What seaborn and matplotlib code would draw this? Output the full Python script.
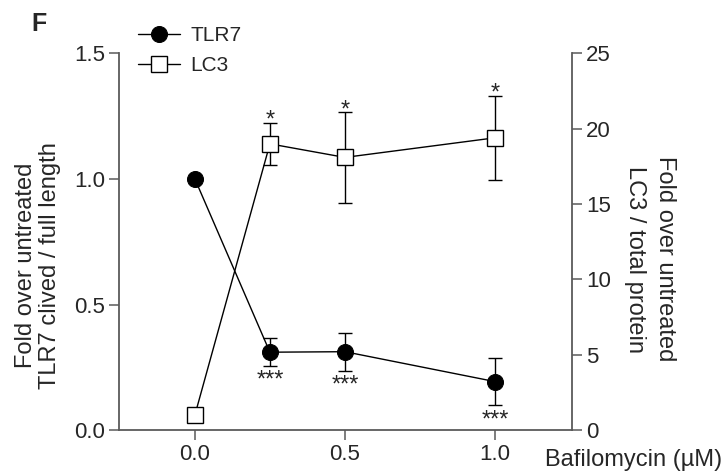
import matplotlib
matplotlib.use("Agg")
import matplotlib.pyplot as plt
import seaborn as sns
import pandas as pd
import numpy as np

# Data
doses = [0.0, 0.25, 0.5, 1.0]
tlr7_mean = [1.0, 0.31, 0.312, 0.193]
tlr7_err = [0.0, 0.055, 0.076, 0.095]
lc3_mean = [1.0, 19.0, 18.1, 19.4]
lc3_err = [0.0, 1.4, 3.0, 2.8]
tlr7_stars = ["", "***", "***", "***"]
lc3_stars = ["", "*", "*", "*"]

sns.set_theme(style="ticks")
plt.rcParams['font.family'] = ['Liberation Sans', 'DejaVu Sans']

AX_COL = "#5a5a5a"

tlr7_df = pd.DataFrame({"dose": doses, "value": tlr7_mean})
lc3_df = pd.DataFrame({"dose": doses, "value": lc3_mean})

fig = plt.figure(figsize=(7.27, 4.75), dpi=100)
ax = fig.add_axes([0.1637, 0.0947, 0.6231, 0.7927])
ax2 = ax.twinx()

# TLR7 on the left axis
ax.errorbar(doses, tlr7_mean, yerr=tlr7_err, fmt="none", ecolor="black",
            elinewidth=1, capsize=5, capthick=1, zorder=2)
sns.lineplot(data=tlr7_df, x="dose", y="value", ax=ax, color="black",
             linewidth=1, marker="o", markersize=11.5, markerfacecolor="black",
             markeredgecolor="black", label="TLR7", legend=False, zorder=3)

# LC3 on the right axis
ax2.errorbar(doses, lc3_mean, yerr=lc3_err, fmt="none", ecolor="black",
             elinewidth=1, capsize=5, capthick=1, zorder=2)
sns.lineplot(data=lc3_df, x="dose", y="value", ax=ax2, color="black",
             linewidth=1, marker="s", markersize=11, markerfacecolor="white",
             markeredgecolor="black", markeredgewidth=1, label="LC3",
             legend=False, zorder=3)

# significance stars
for x, m, e, s in zip(doses, tlr7_mean, tlr7_err, tlr7_stars):
    if s:
        ax.annotate(s, (x, m - e), xytext=(0, -15), textcoords="offset points",
                    ha="center", va="baseline", fontsize=17)
for x, m, e, s in zip(doses, lc3_mean, lc3_err, lc3_stars):
    if s:
        ax2.annotate(s, (x, m + e), xytext=(0, -3), textcoords="offset points",
                     ha="center", va="baseline", fontsize=17)

ax.set_xlim(-0.253, 1.257)
ax.set_ylim(0, 1.5)
ax2.set_ylim(0, 25)
ax.set_xticks([0.0, 0.5, 1.0])
ax.set_xticklabels(["0.0", "0.5", "1.0"])
ax.set_yticks([0.0, 0.5, 1.0, 1.5])
ax.set_yticklabels(["0.0", "0.5", "1.0", "1.5"])
ax2.set_yticks([0, 5, 10, 15, 20, 25])

for a in (ax, ax2):
    a.set_xlabel("")
    a.set_ylabel("")
    a.tick_params(axis="both", labelsize=16, length=7, width=1.1,
                  color=AX_COL, direction="out", pad=3)
    for sp in a.spines.values():
        sp.set_color(AX_COL)
        sp.set_linewidth(1.3)

ax.spines["top"].set_visible(False)
ax.spines["right"].set_visible(False)
ax2.spines["top"].set_visible(False)
ax2.spines["left"].set_visible(False)
ax2.spines["bottom"].set_visible(False)

ax.set_ylabel("Fold over untreated\nTLR7 clived / full length", fontsize=17,
              linespacing=1.1, ha="center", va="center")
ax.yaxis.set_label_coords(-0.179, 0.438)
ax2.set_ylabel("Fold over untreated\nLC3 / total protein", fontsize=17,
               rotation=-90, linespacing=1.45, ha="center", va="center")
ax2.yaxis.set_label_coords(1.172, 0.454)

ax.text(0.94, -0.08, "Bafilomycin (\u00b5M)", transform=ax.transAxes,
        ha="left", va="center", fontsize=17)

fig.text(0.054, 0.95, "F", fontsize=18, fontweight="bold", ha="center", va="center")

h1 = ax.get_lines()[-1]
h2 = ax2.get_lines()[-1]
fig.legend([h1, h2], ["TLR7", "LC3"], loc="upper left",
           bbox_to_anchor=(0.17, 0.976), frameon=False, fontsize=15,
           handlelength=2.0, handletextpad=0.5, labelspacing=0.55,
           borderaxespad=0.3)

fig.savefig("out.png", dpi=100)
